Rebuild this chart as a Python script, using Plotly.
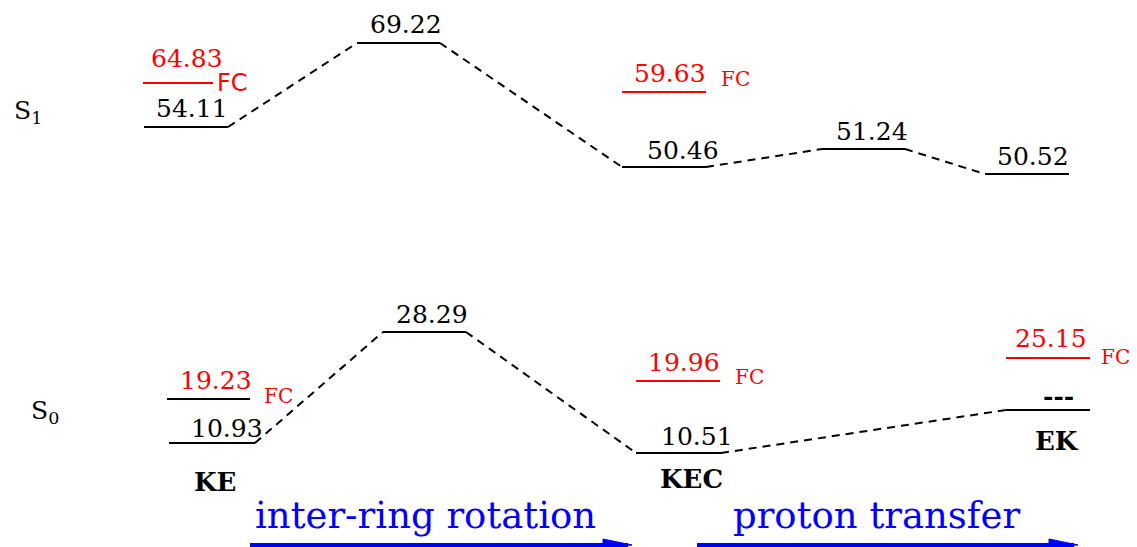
import plotly.graph_objects as go

# ---------------- data ----------------
states = ["S<sub>1</sub>", "S<sub>0</sub>"]
species = ["KE", "KEC", "EK"]
processes = ["inter-ring rotation", "proton transfer"]

s1_energies = ["54.11", "69.22", "50.46", "51.24", "50.52"]
s1_fc_energies = ["64.83", "59.63"]
s0_energies = ["10.93", "28.29", "10.51", "---"]
s0_fc_energies = ["19.23", "19.96", "25.15"]
fc_tag = "FC"

# ---------------- schematic geometry (diagram units) ----------------
s1_x0 = [144, 357, 622, 822, 985]
s1_x1 = [228, 440, 706, 905, 1069]
s1_y = [127, 43, 167, 149, 174]
s1_lab_x = [192, 406, 683, 872, 1033]
s1_lab_y = [108, 24, 150, 131, 156]

s1_fc_x0 = [143, 622]
s1_fc_x1 = [213, 706]
s1_fc_y = [83, 92]
s1_fc_lab_x = [187, 670]
s1_fc_lab_y = [58, 73]
s1_fc_tag_x = [232, 735]
s1_fc_tag_y = [83, 79]
s1_fc_line_col = ["red", "red"]

s0_x0 = [169, 383, 636, 1006]
s0_x1 = [255, 466, 721, 1090]
s0_y = [443, 332, 453, 410]
s0_lab_x = [227, 432, 697, 1058]
s0_lab_y = [428, 314, 436, 396]

s0_fc_x0 = [167, 636, 1006]
s0_fc_x1 = [250, 720, 1090]
s0_fc_y = [399, 381, 358]
s0_fc_lab_x = [216, 684, 1051]
s0_fc_lab_y = [380, 362, 338]
s0_fc_tag_x = [278, 749, 1115]
s0_fc_tag_y = [396, 377, 357]
s0_fc_line_col = ["black", "red", "red"]

species_x = [215, 691, 1057]
species_y = [482, 479, 441]
state_x = [12, 29]
state_y = [112, 412]

proc_x = [425, 876]
proc_y = [515, 515]
arrow_x0 = [250, 697]
arrow_x1 = [632, 1078]
arrow_y = 545

W, H = 1137, 547
OFF = 8  # page body margin compensation
SERIF = "DejaVu Serif"
SANS = "DejaVu Sans"

fig = go.Figure()


def level(x0, x1, y, color):
    fig.add_trace(go.Scatter(x=[x0, x1], y=[y, y], mode="lines",
                             line=dict(color=color, width=2),
                             hoverinfo="skip", showlegend=False))


def connectors(x0s, x1s, ys):
    xs, yv = [], []
    for i in range(len(ys) - 1):
        xs += [x1s[i], x0s[i + 1], None]
        yv += [ys[i], ys[i + 1], None]
    fig.add_trace(go.Scatter(x=xs, y=yv, mode="lines",
                             line=dict(color="black", width=2, dash="8px,6px"),
                             hoverinfo="skip", showlegend=False))


def label(x, y, text, color="black", size=25, family=SERIF, bold=False):
    t = f"<b>{text}</b>" if bold else text
    fig.add_annotation(x=x, y=y, text=t, showarrow=False,
                       xanchor="center", yanchor="middle",
                       font=dict(family=family, size=size, color=color))


# S1
connectors(s1_x0, s1_x1, s1_y)
for i, e in enumerate(s1_energies):
    level(s1_x0[i], s1_x1[i], s1_y[i], "black")
    label(s1_lab_x[i], s1_lab_y[i], e)
for i, e in enumerate(s1_fc_energies):
    level(s1_fc_x0[i], s1_fc_x1[i], s1_fc_y[i], s1_fc_line_col[i])
    label(s1_fc_lab_x[i], s1_fc_lab_y[i], e, color="red")
    if i == 0:
        label(s1_fc_tag_x[i], s1_fc_tag_y[i], fc_tag, color="red", size=24, family=SANS)
    else:
        label(s1_fc_tag_x[i], s1_fc_tag_y[i], fc_tag, color="red", size=20)

# S0
connectors(s0_x0, s0_x1, s0_y)
for i, e in enumerate(s0_energies):
    level(s0_x0[i], s0_x1[i], s0_y[i], "black")
    label(s0_lab_x[i], s0_lab_y[i], e, bold=(e == "---"))
for i, e in enumerate(s0_fc_energies):
    level(s0_fc_x0[i], s0_fc_x1[i], s0_fc_y[i], s0_fc_line_col[i])
    label(s0_fc_lab_x[i], s0_fc_lab_y[i], e, color="red")
    label(s0_fc_tag_x[i], s0_fc_tag_y[i], fc_tag, color="red", size=20)

# species names
for i, s in enumerate(species):
    label(species_x[i], species_y[i], s, size=26, bold=True)

# state names
for i, s in enumerate(states):
    fig.add_annotation(x=state_x[i], y=state_y[i], text=s, showarrow=False,
                       xanchor="left", yanchor="middle",
                       font=dict(family=SERIF, size=25, color="black"))

# process arrows
for i, p in enumerate(processes):
    label(proc_x[i], proc_y[i], p, color="blue", size=37)
    fig.add_trace(go.Scatter(x=[arrow_x0[i], arrow_x1[i] - 4], y=[arrow_y, arrow_y],
                             mode="lines", line=dict(color="blue", width=4),
                             hoverinfo="skip", showlegend=False))
    fig.add_trace(go.Scatter(x=[arrow_x1[i] - 29, arrow_x1[i], arrow_x1[i] - 29, arrow_x1[i] - 29],
                             y=[arrow_y - 6, arrow_y, arrow_y + 2, arrow_y - 6],
                             mode="lines", fill="toself", fillcolor="blue",
                             line=dict(color="blue", width=1),
                             hoverinfo="skip", showlegend=False))

fig.update_layout(
    width=W, height=H,
    margin=dict(l=0, r=0, t=0, b=0),
    paper_bgcolor="white", plot_bgcolor="white",
    xaxis=dict(range=[OFF, W + OFF], visible=False, fixedrange=True),
    yaxis=dict(range=[H + OFF, OFF], visible=False, fixedrange=True),
    showlegend=False,
)

fig.write_html("out.html")
